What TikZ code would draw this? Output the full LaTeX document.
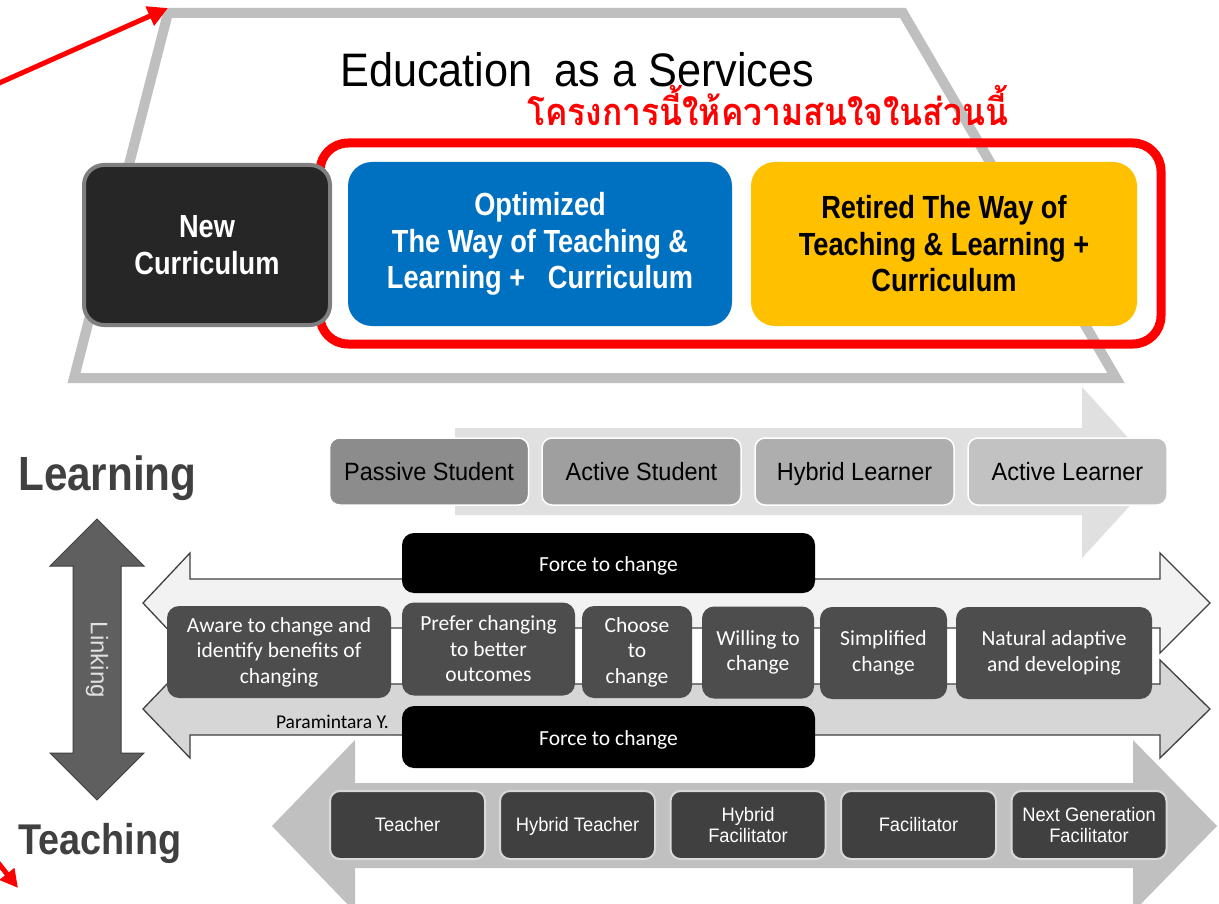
\documentclass[tikz,border=0pt]{standalone}
\usepackage{fontspec}
\setmainfont{Liberation Sans}
\newfontfamily\condf[FakeStretch=0.85]{Liberation Sans}
\newfontfamily\labelf[FakeStretch=0.88]{Liberation Sans}
\newfontfamily\semicond[FakeStretch=0.94]{Liberation Sans}
\newfontfamily\titlef[FakeStretch=0.92]{Liberation Sans}
\newfontfamily\carl{Carlito}
\newfontfamily\thaifont[Script=Thai,FakeStretch=0.885]{Loma}
\usetikzlibrary{arrows.meta}
\definecolor{trapgray}{HTML}{BFBFBF}
\definecolor{edublue}{HTML}{0070C0}
\definecolor{eduyellow}{HTML}{FFC000}
\definecolor{ncdark}{HTML}{262626}
\definecolor{ncborder}{HTML}{7F7F7F}
\definecolor{larrow}{HTML}{E0E0E0}
\definecolor{lone}{HTML}{8C8C8C}
\definecolor{ltwo}{HTML}{9F9F9F}
\definecolor{lthree}{HTML}{AEAEAE}
\definecolor{lfour}{HTML}{C2C2C2}
\definecolor{midbox}{HTML}{4D4D4D}
\definecolor{uparrow}{HTML}{F2F2F2}
\definecolor{lowarrow}{HTML}{D6D6D6}
\definecolor{outl}{HTML}{404040}
\definecolor{botarrow}{HTML}{C0C0C0}
\definecolor{botbox}{HTML}{404040}
\definecolor{linkgray}{HTML}{5F5F5F}
\definecolor{labelgray}{HTML}{404040}
\begin{document}
\begin{tikzpicture}[x=1pt,y=-1pt,
  topbox/.style={rectangle, rounded corners=24pt, minimum height=164pt, inner sep=0pt, align=center,
     font=\condf\bfseries\fontsize{32}{36.5}\selectfont},
  lbox/.style={rectangle, rounded corners=10pt, draw=white, line width=1.5pt, minimum width=199pt,
     minimum height=67pt, inner sep=0pt, text=black, text height=22pt, text depth=5pt,
     font=\semicond\fontsize{25}{30}\selectfont},
  mbox/.style={rectangle, rounded corners=12pt, fill=midbox, minimum height=92pt, inner sep=0pt,
     align=center, text=white, font=\carl\fontsize{21.5}{25.5}\selectfont},
  forcebox/.style={rectangle, rounded corners=12pt, fill=black, minimum width=413pt, inner sep=0pt,
     text=white, text height=18pt, text depth=2pt, font=\carl\fontsize{21.5}{26}\selectfont},
  bbox/.style={rectangle, rounded corners=10pt, fill=botbox, draw=white!85!black, line width=2pt,
     minimum width=155pt, minimum height=68pt, inner sep=0pt, align=center, text=white,
     font=\semicond\fontsize{19.5}{21}\selectfont},
  oneline/.style={text height=17pt, text depth=4pt},
  redarrow/.style={draw=red, line width=5pt, -{Triangle[length=20pt,width=20pt]}},
  bigarrow/.style={draw=outl, line width=1.3pt, line join=miter}
]
\useasboundingbox (0,0) rectangle (1219,904);
\clip (0,0) rectangle (1219,904);
\fill[white] (0,0) rectangle (1219,904);

% trapezoid
\draw[trapgray, line width=10pt, line join=miter] (168,13) -- (903,13) -- (1116,378) -- (74,378) -- cycle;

% title texts
\node[anchor=base west, inner sep=0pt, text=black, font=\titlef\fontsize{47}{50}\selectfont] (title) at (340,87) {Education\hspace{10pt} as a Services};
\node[anchor=base west, inner sep=0pt, text=red, font=\thaifont\bfseries\fontsize{38}{40}\selectfont] (thai) at (527,126) {โครงการนี้ให้ความสนใจในส่วนนี้};

% red frame
\draw[red, line width=9pt, rounded corners=28pt] (320,143) rectangle (1161,344);

% top boxes
\node[topbox, fill=ncdark, draw=ncborder, line width=4pt, minimum width=246pt, minimum height=160pt, rounded corners=20pt, text=white] (newcur) at (207,245) {New\\Curriculum};
\node[topbox, fill=edublue, minimum width=384pt, text=white] (optim) at (540,244) {Optimized\\The Way of Teaching \&\\Learning +\ \ \ Curriculum};
\node[topbox, fill=eduyellow, minimum width=386pt, text=black] (retired) at (944,244) {Retired The Way of\\Teaching \& Learning +\\Curriculum};

% Learning arrow and boxes
\fill[larrow] (455,428) -- (1082,428) -- (1082,387) -- (1160,473) -- (1082,558) -- (1082,515) -- (455,515) -- cycle;
\node[lbox, fill=lone] (passive) at (429,471.5) {Passive Student};
\node[lbox, fill=ltwo] (actstud) at (641.5,471.5) {Active Student};
\node[lbox, fill=lthree] (hybl) at (854.5,471.5) {Hybrid Learner};
\node[lbox, fill=lfour] (actl) at (1067.5,471.5) {Active Learner};

\node[anchor=base west, inner sep=0pt, text=labelgray, font=\labelf\bfseries\fontsize{48}{50}\selectfont] (learning) at (18,490) {Learning};
\node[anchor=base west, inner sep=0pt, text=labelgray, font=\labelf\bfseries\fontsize{43}{50}\selectfont] (teaching) at (18,854) {Teaching};

% Linking arrow
\filldraw[fill=linkgray, draw=outl, line width=1pt, line join=miter] (97,519) -- (144,566) -- (121,566) -- (121,753) -- (144,753) -- (97,800) -- (50,753) -- (73,753) -- (73,566) -- (50,566) -- cycle;
\node[rotate=-90, text=white!88!black, inner sep=0pt, font=\fontsize{24}{26}\selectfont] (linking) at (97,660) {Linking};

% middle arrows
\filldraw[bigarrow, fill=uparrow] (143,603) -- (190,553) -- (190,579) -- (1160,579) -- (1160,553) -- (1210,603) -- (1160,653) -- (1160,628) -- (190,628) -- (190,653) -- cycle;
\filldraw[bigarrow, fill=lowarrow] (143,709) -- (190,660) -- (190,684) -- (1160,684) -- (1160,660) -- (1210,709) -- (1160,758) -- (1160,735) -- (190,735) -- (190,758) -- cycle;

\node[forcebox, minimum height=60pt] (force1) at (608.5,563) {Force to change};
\node[forcebox, minimum height=62pt] (force2) at (608.5,737) {Force to change};

\node[mbox, minimum width=224pt] (aware) at (279,652) {Aware to change and\\identify benefits of\\changing};
\node[mbox, minimum width=173pt, minimum height=93pt] (prefer) at (488.5,649) {Prefer changing\\to better\\outcomes};
\node[mbox, minimum width=110pt] (choose) at (637,652) {Choose\\to\\change};
\node[mbox, minimum width=112pt] (willing) at (758,652.5) {Willing to\\change};
\node[mbox, minimum width=127pt] (simpl) at (883.5,653) {Simplified\\change};
\node[mbox, minimum width=196pt] (natural) at (1054,653) {Natural adaptive\\and developing};

\node[anchor=base east, inner sep=0pt, text=black, font=\carl\fontsize{19.5}{21}\selectfont] (author) at (389,728) {Paramintara Y.};

% bottom arrow and boxes
\fill[botarrow] (272,826) -- (355,740) -- (355,783) -- (1133,783) -- (1133,740) -- (1217,826) -- (1133,912) -- (1133,868) -- (355,868) -- (355,912) -- cycle;
\node[bbox, oneline] (teacher) at (407.5,825) {Teacher};
\node[bbox, oneline] (hybt) at (577.5,825) {Hybrid Teacher};
\node[bbox] (hybf) at (748,825) {Hybrid\\Facilitator};
\node[bbox, oneline] (facil) at (918.5,825) {Facilitator};
\node[bbox] (nextgen) at (1089,825) {Next Generation\\Facilitator};

% red arrows
\coordinate (ra1s) at (-12,88);
\coordinate (ra1e) at (168,8);
\coordinate (ra2s) at (-8,855);
\coordinate (ra2e) at (18,888);
\draw[redarrow] (ra1s) -- (ra1e);
\draw[redarrow, -{Triangle[length=18pt,width=18pt]}] (ra2s) -- (ra2e);
\end{tikzpicture}
\end{document}
